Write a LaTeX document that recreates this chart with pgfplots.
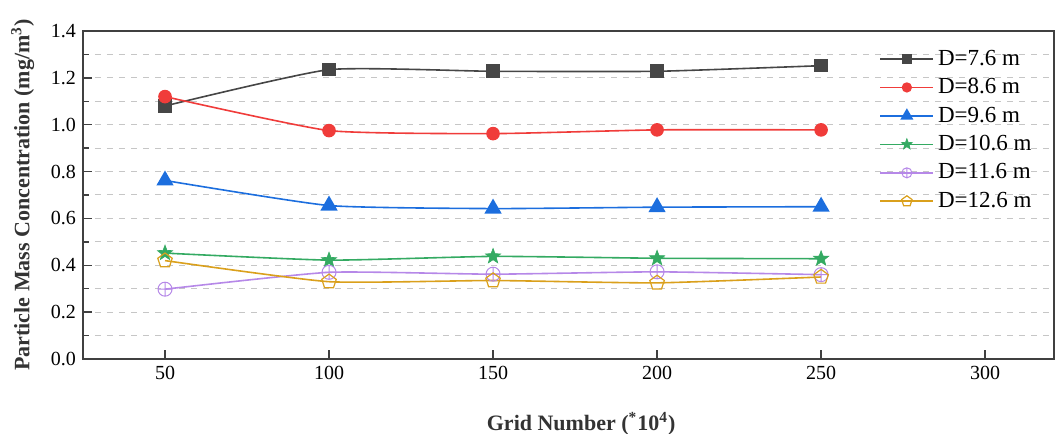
\documentclass[border=0pt]{standalone}
\usepackage{pgfplots}
\pgfplotsset{compat=1.18}
\usepackage{fontspec}
\setmainfont{Liberation Serif}
\usetikzlibrary{plotmarks}
\definecolor{c1}{RGB}{70,70,70}
\definecolor{c2}{RGB}{240,60,58}
\definecolor{c3}{RGB}{28,110,222}
\definecolor{c4}{RGB}{52,170,98}
\definecolor{c5}{RGB}{182,136,232}
\definecolor{c6}{RGB}{218,160,28}
\pgfdeclareplotmark{fstar}{%
  \pgfpathmoveto{\pgfpointpolar{90}{\pgfplotmarksize}}%
  \pgfpathlineto{\pgfpointpolar{126}{0.42\pgfplotmarksize}}%
  \pgfpathlineto{\pgfpointpolar{162}{\pgfplotmarksize}}%
  \pgfpathlineto{\pgfpointpolar{198}{0.42\pgfplotmarksize}}%
  \pgfpathlineto{\pgfpointpolar{234}{\pgfplotmarksize}}%
  \pgfpathlineto{\pgfpointpolar{270}{0.42\pgfplotmarksize}}%
  \pgfpathlineto{\pgfpointpolar{306}{\pgfplotmarksize}}%
  \pgfpathlineto{\pgfpointpolar{342}{0.42\pgfplotmarksize}}%
  \pgfpathlineto{\pgfpointpolar{18}{\pgfplotmarksize}}%
  \pgfpathlineto{\pgfpointpolar{54}{0.42\pgfplotmarksize}}%
  \pgfpathclose
  \pgfusepathqfillstroke}
\begin{document}
\begin{tikzpicture}
\begin{axis}[
  scale only axis,
  width=485.5pt, height=164pt,
  xmin=25, xmax=321, ymin=0, ymax=1.4,
  xtick={50,100,150,200,250,300},
  ytick={0,0.2,...,1.4},
  minor y tick num=1,
  ymajorgrids, yminorgrids,
  major grid style={dashed, gray!45, line width=0.5pt},
  minor grid style={dashed, gray!45, line width=0.5pt},
  tick align=inside,
  xtick pos=bottom, ytick pos=left,
  major tick length=4.5pt, minor tick length=3pt,
  axis line style={black!75, line width=0.8pt},
  tick style={black!75, line width=0.7pt},
  /pgf/number format/assume math mode=true,
  yticklabel style={/pgf/number format/fixed, /pgf/number format/fixed zerofill, /pgf/number format/precision=1},
  ticklabel style={font=\fontsize{10}{11}\selectfont, text=black},
  xlabel={\textbf{Grid Number (\textsuperscript{*}10\textsuperscript{4})}},
  ylabel={\textbf{Particle Mass Concentration (mg/m\textsuperscript{3})}},
  label style={font=\fontsize{11}{13}\selectfont, text=black!80},
  xlabel style={at={(axis description cs:0.513,0)}, anchor=north, yshift=-23pt},
  ylabel style={yshift=1.5pt},
  legend style={draw=none, fill=none, at={(rel axis cs:0.818,0.962)}, anchor=north west,
    font=\fontsize{11.5}{13}\selectfont, row sep=1.1pt, inner sep=1pt},
  legend cell align=left,
  legend image code/.code={\draw[mark repeat=2,mark phase=2, every mark/.append style={scale=0.72}] plot coordinates {(0pt,0pt) (13.2pt,0pt) (26.4pt,0pt)};},
  every axis plot/.append style={line width=0.8pt, smooth, tension=0.3},
]
\addplot[c1, mark=square*, mark size=3pt, mark options={fill=c1}] coordinates {(50,1.08) (100,1.235) (150,1.228) (200,1.228) (250,1.252)};
\addlegendentry{D=7.6 m}
\addplot[c2, mark=*, mark size=3pt, mark options={fill=c2}] coordinates {(50,1.12) (100,0.975) (150,0.962) (200,0.978) (250,0.978)};
\addlegendentry{D=8.6 m}
\addplot[c3, mark=triangle*, mark size=4.2pt, mark options={fill=c3}] coordinates {(50,0.762) (100,0.655) (150,0.642) (200,0.648) (250,0.65)};
\addlegendentry{D=9.6 m}
\addplot[c4, mark=fstar, mark size=4pt, mark options={fill=c4, line width=0.3pt}] coordinates {(50,0.452) (100,0.422) (150,0.438) (200,0.43) (250,0.428)};
\addlegendentry{D=10.6 m}
\addplot[c5, mark=oplus, mark size=3.5pt, mark options={line width=0.5pt}] coordinates {(50,0.298) (100,0.37) (150,0.362) (200,0.372) (250,0.36)};
\addlegendentry{D=11.6 m}
\addplot[c6, mark=pentagon, mark size=3.8pt, mark options={fill=white, line width=0.6pt}] coordinates {(50,0.42) (100,0.33) (150,0.335) (200,0.325) (250,0.35)};
\addlegendentry{D=12.6 m}
\end{axis}
\pgfresetboundingbox
\path ([xshift=-41.5pt,yshift=-37.5pt]current axis.south west) rectangle ([xshift=1pt,yshift=15.5pt]current axis.north east);
\end{tikzpicture}
\end{document}
